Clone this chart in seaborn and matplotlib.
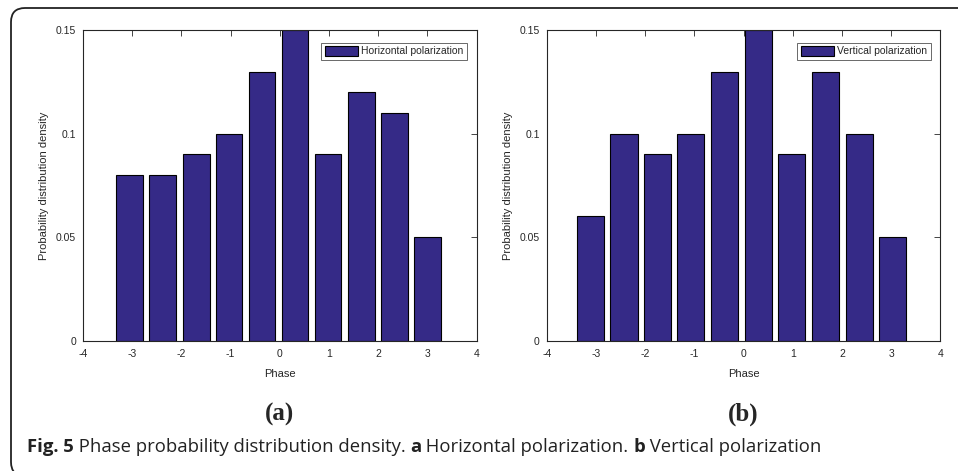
"""
Phase probability distribution density - two panel bar chart
(horizontal and vertical polarization), drawn with seaborn.
"""

import matplotlib
matplotlib.use("Agg")
import matplotlib.pyplot as plt
from matplotlib.patches import FancyBboxPatch, Patch
import pandas as pd
import seaborn as sns


# ──────────────────────────────────────────────
# Data
# ──────────────────────────────────────────────

phase_h = [-3.05, -2.38, -1.70, -1.03, -0.36, 0.31, 0.98, 1.66, 2.33, 3.00]
density_h = [0.08, 0.08, 0.09, 0.10, 0.13, 0.15, 0.09, 0.12, 0.11, 0.05]

phase_v = [-3.11, -2.43, -1.75, -1.07, -0.38, 0.30, 0.98, 1.66, 2.35, 3.03]
density_v = [0.06, 0.10, 0.09, 0.10, 0.13, 0.15, 0.09, 0.13, 0.10, 0.05]

x_ticks = [-4, -3, -2, -1, 0, 1, 2, 3, 4]
y_ticks = [0, 0.05, 0.1, 0.15]
y_tick_labels = ["0", "0.05", "0.1", "0.15"]

panels = [
    ("Horizontal polarization", "(a)", phase_h, density_h),
    ("Vertical polarization", "(b)", phase_v, density_v),
]

BAR_COLOR = "#352a87"
SANS = ["Liberation Sans", "DejaVu Sans"]
CAPTION_FONT = ["Open Sans", "DejaVu Sans"]


# ──────────────────────────────────────────────
# Plot helpers
# ──────────────────────────────────────────────

def draw_panel(ax, label, phase, density):
    """One MATLAB-looking bar panel."""
    df = pd.DataFrame({"phase": phase, "density": density})
    sns.barplot(
        data=df, x="phase", y="density", native_scale=True,
        color=BAR_COLOR, saturation=1, width=0.81,
        edgecolor="black", linewidth=0.8, ax=ax,
    )
    ax.set_xlim(-4, 4)
    ax.set_ylim(0, 0.15)
    ax.set_xticks(x_ticks)
    ax.set_xticklabels([str(t) for t in x_ticks])
    ax.set_yticks(y_ticks)
    ax.set_yticklabels(y_tick_labels)
    ax.tick_params(direction="in", length=4, width=0.6, colors="#262626",
                   labelsize=7.5, top=True, right=True)
    ax.tick_params(axis="x", pad=6)
    ax.tick_params(axis="y", pad=5)
    for lbl in ax.get_xticklabels() + ax.get_yticklabels():
        lbl.set_family(SANS)
    for spine in ax.spines.values():
        spine.set_visible(True)
        spine.set_color("#262626")
        spine.set_linewidth(0.8)
    ax.set_xlabel("Phase", fontsize=8, family=SANS, labelpad=7)
    ax.set_ylabel("Probability distribution density", fontsize=8,
                  family=SANS, labelpad=5)

    handle = Patch(facecolor=BAR_COLOR, edgecolor="black", linewidth=0.8)
    leg = ax.legend([handle], [label], loc="upper right",
                    bbox_to_anchor=(0.975, 0.96),
                    prop={"family": SANS, "size": 7.5},
                    frameon=True, fancybox=False, handlelength=3.2,
                    handleheight=1.0, handletextpad=0.3, borderpad=0.35,
                    borderaxespad=0)
    leg.get_frame().set_edgecolor("#262626")
    leg.get_frame().set_linewidth(0.6)


def write_caption(fig, x, y, pieces, size):
    """Write a run of text pieces with mixed weights on one line."""
    for txt, weight in pieces:
        t = fig.text(x, y, txt, fontsize=size, fontweight=weight,
                     family=CAPTION_FONT, va="center", color="#222222")
        fig.canvas.draw()
        x = t.get_window_extent().x1 / fig.bbox.width


# ──────────────────────────────────────────────
# Figure
# ──────────────────────────────────────────────

sns.set_style("white")
fig = plt.figure(figsize=(9.58, 4.71), dpi=100)

# rounded outer frame (right and bottom edges fall outside the image)
frame = FancyBboxPatch(
    (0.11, -0.05), 10.0, 4.63 + 0.05,
    boxstyle="round,pad=0,rounding_size=0.14",
    transform=fig.dpi_scale_trans, facecolor="none",
    edgecolor="#222222", linewidth=1.3, clip_on=False,
)
fig.patches.append(frame)

lefts = [0.0866, 0.5707]
for left, (label, tag, phase, density) in zip(lefts, panels):
    ax = fig.add_axes([left, 0.277, 0.411, 0.659])
    draw_panel(ax, label, phase, density)
    fig.text(left + 0.411 / 2, (471 - 414) / 471, tag, ha="center",
             va="center", fontsize=18, fontweight="bold",
             family=["Liberation Serif", "DejaVu Serif"])

caption = [
    ("Fig. 5", "bold"),
    (" Phase probability distribution density. ", "normal"),
    ("a", "bold"),
    (" Horizontal polarization. ", "normal"),
    ("b", "bold"),
    (" Vertical polarization", "normal"),
]
write_caption(fig, 0.028, (471 - 447) / 471, caption, 13.3)

fig.savefig("out.png", dpi=100)
